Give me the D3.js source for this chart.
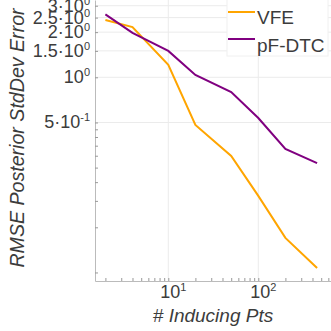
<!DOCTYPE html>
<html lang="en">
    <head>
        <meta charset="utf-8">
        <title>RMSE Posterior StdDev Error</title>
        <script src="https://d3js.org/d3.v7.min.js"></script>
        <style type="text/css">
         body { margin: 0; background: #fff; }
         text { font-family: "Liberation Sans", Arial, sans-serif; fill: #3c3c3c; }
        </style>
    </head>
    <body>
        <script type="text/javascript">

        //data
        const inducing = [2, 4, 10, 20, 50, 100, 200, 450];
        const vfe = [2.41, 2.16, 1.21, 0.481, 0.299, 0.162, 0.085, 0.0536];
        const pfdtc = [2.63, 1.98, 1.50, 1.036, 0.798, 0.535, 0.333, 0.268];
        const seriesNames = ["VFE", "pF-DTC"];
        const seriesColors = ["orange", "purple"];
        const yTicks = [3, 2.5, 2, 1.5, 1, 0.5];
        const yTickLabels = [["3·10", "0"], ["2.5·10", "0"], ["2·10", "0"], ["1.5·10", "0"], ["10", "0"], ["5·10", "-1"]];
        const xTicks = [10, 100];
        const xTickLabels = [["10", "1"], ["10", "2"]];

        //sizes
        const svgW = 331;
        const svgH = 331;
        const plotL = 95, plotR = 331, plotB = 281, plotT = 0;

        //scales: 1 decade = 90px on x, 150px on y
        const x = d3.scaleLog()
                    .domain([Math.pow(10, 1 - 73.3/90), Math.pow(10, 1 + 162.7/90)])
                    .range([plotL, plotR]);
        const y = d3.scaleLog()
                    .domain([Math.pow(10, (77.3 - plotB)/150), Math.pow(10, 77.3/150)])
                    .range([plotB, plotT]);

        const svg = d3.select("body")
                .append("svg")
                .attr("width", svgW)
                .attr("height", svgH)
                .style("display", "block");

        //grid
        svg.append("g").selectAll("line")
           .data(xTicks).enter().append("line")
           .attr("x1", d => x(d)).attr("x2", d => x(d))
           .attr("y1", plotT).attr("y2", plotB)
           .attr("stroke", "#ebebeb");
        svg.append("g").selectAll("line")
           .data(yTicks).enter().append("line")
           .attr("x1", plotL).attr("x2", plotR)
           .attr("y1", d => y(d)).attr("y2", d => y(d))
           .attr("stroke", "#ebebeb");

        //axes with inward ticks
        const xMinor = [2,3,4,5,6,7,8,9,20,30,40,50,60,70,80,90,200,300,400,500,600];
        const xAxis = d3.axisTop(x).tickValues(xMinor.concat(xTicks)).tickFormat("")
                        .tickSize(3).tickSizeOuter(0);
        svg.append("g").attr("transform", "translate(0," + plotB + ")").call(xAxis)
           .call(g => g.selectAll("line").attr("stroke", "#999"))
           .call(g => g.select(".domain").attr("stroke", "#bbb"));

        const yMinor = [0.05,0.1,0.15,0.2,0.25,0.3,0.35,0.4,0.45,0.5,1,1.5,2,2.5,3];
        const yAxis = d3.axisRight(y).tickValues(yMinor).tickFormat("")
                        .tickSize(3).tickSizeOuter(0);
        svg.append("g").attr("transform", "translate(" + plotL + ",0)").call(yAxis)
           .call(g => g.selectAll("line").attr("stroke", "#999"))
           .call(g => g.select(".domain").attr("stroke", "#bbb"));

        //tick labels
        const xl = svg.append("g").selectAll("text")
           .data(xTicks).enter().append("text")
           .attr("x", d => x(d) + 5)
           .attr("y", 298)
           .attr("text-anchor", "middle")
           .attr("font-size", "18px");
        xl.append("tspan").text((d, i) => xTickLabels[i][0]);
        xl.append("tspan").attr("dy", "-7").attr("font-size", "11px").text((d, i) => xTickLabels[i][1]);

        const yl = svg.append("g").selectAll("text")
           .data(yTicks).enter().append("text")
           .attr("x", 90)
           .attr("y", d => y(d) + 6)
           .attr("text-anchor", "end")
           .attr("font-size", "18px");
        yl.append("tspan").text((d, i) => yTickLabels[i][0]);
        yl.append("tspan").attr("dy", "-7").attr("font-size", "11px").text((d, i) => yTickLabels[i][1]);

        //lines
        const line = d3.line().x(d => x(d[0])).y(d => y(d[1]));
        [vfe, pfdtc].forEach((s, i) => {
            svg.append("path")
               .attr("d", line(inducing.map((n, j) => [n, s[j]])))
               .attr("fill", "none")
               .attr("stroke", seriesColors[i])
               .attr("stroke-width", 2);
        });

        //legend
        svg.append("rect")
           .attr("x", 227).attr("y", -2).attr("width", 101).attr("height", 58)
           .attr("fill", "#fff").attr("stroke", "#f0f0f0");
        seriesNames.forEach((n, i) => {
            svg.append("line")
               .attr("x1", 228).attr("x2", 255)
               .attr("y1", 12 + i*27).attr("y2", 12 + i*27)
               .attr("stroke", seriesColors[i]).attr("stroke-width", 2);
            svg.append("text")
               .attr("x", 257).attr("y", 24 + i*28)
               .attr("font-size", "19px")
               .text(n);
        });

        //axis titles
        svg.append("text")
           .attr("x", 213).attr("y", 322)
           .attr("text-anchor", "middle")
           .attr("font-size", "19px")
           .attr("font-style", "italic")
           .text("# Inducing Pts");
        svg.append("text")
           .attr("transform", "translate(24,138) rotate(-90)")
           .attr("text-anchor", "middle")
           .attr("font-size", "19.6px")
           .attr("font-style", "italic")
           .text("RMSE Posterior StdDev Error");

        </script>
    </body>
</html>
